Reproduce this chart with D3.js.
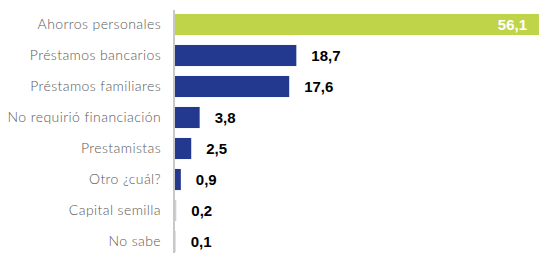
<!DOCTYPE html>
<html>
<head>
<meta charset="utf-8">
<script src="https://cdn.jsdelivr.net/npm/d3@7"></script>
<style>
  body { margin: 0; background: #fff; }
  svg { display: block; }
</style>
</head>
<body>
<svg id="chart" width="543" height="253"></svg>
<script>
var categories = ["Ahorros personales", "Préstamos bancarios", "Préstamos familiares",
  "No requirió financiación", "Prestamistas", "Otro ¿cuál?", "Capital semilla", "No sabe"];
var values = [56.1, 18.7, 17.6, 3.8, 2.5, 0.9, 0.2, 0.1];
var valueLabels = ["56,1", "18,7", "17,6", "3,8", "2,5", "0,9", "0,2", "0,1"];

var svg = d3.select("#chart");
var x0 = 175;

var x = d3.scaleLinear()
    .domain([0, 56.1])
    .range([x0, 539]);

var y = d3.scaleBand()
    .domain(categories)
    .range([9, 257])
    .paddingInner(0.32)
    .paddingOuter(0.16);

var data = categories.map(function(c, i){ return {cat: c, val: values[i], lab: valueLabels[i], i: i}; });

svg.selectAll("rect.bar")
  .data(data)
  .enter()
  .append("rect")
    .attr("class", "bar")
    .attr("x", x0)
    .attr("y", function(d){ return y(d.cat); })
    .attr("width", function(d){ return x(d.val) - x0; })
    .attr("height", y.bandwidth())
    .attr("fill", function(d){ return d.i == 0 ? "#bfd449" : "#23388f"; })
    .attr("fill-opacity", function(d){ return d.val < 0.5 ? 0.25 : 1; });

// vertical axis line
svg.append("line")
    .attr("x1", 174).attr("x2", 174)
    .attr("y1", 10).attr("y2", 253)
    .attr("stroke", "#c8c8c8")
    .attr("stroke-width", 2);

// category labels
svg.selectAll("text.cat")
  .data(data)
  .enter()
  .append("text")
    .attr("class", "cat")
    .attr("x", 161)
    .attr("y", function(d){ return y(d.cat) + y.bandwidth() / 2; })
    .attr("dy", "0.35em")
    .attr("text-anchor", "end")
    .style("font-family", "Lato, 'DejaVu Sans', sans-serif")
    .style("font-weight", "300")
    .style("font-size", "14px")
    .style("letter-spacing", "0.4px")
    .style("fill", "#595959")
    .text(function(d){ return d.cat; });

// value labels
svg.selectAll("text.val")
  .data(data)
  .enter()
  .append("text")
    .attr("class", "val")
    .attr("x", function(d){ return d.i == 0 ? x(d.val) - 12 : x(d.val) + 15; })
    .attr("y", function(d){ return y(d.cat) + y.bandwidth() / 2; })
    .attr("dy", "0.36em")
    .attr("text-anchor", function(d){ return d.i == 0 ? "end" : "start"; })
    .style("font-family", "'Liberation Sans', Arial, sans-serif")
    .style("font-weight", "bold")
    .style("font-size", "15px")
    .style("fill", function(d){ return d.i == 0 ? "#fff" : "#000"; })
    .text(function(d){ return d.lab; });
</script>
</body>
</html>
